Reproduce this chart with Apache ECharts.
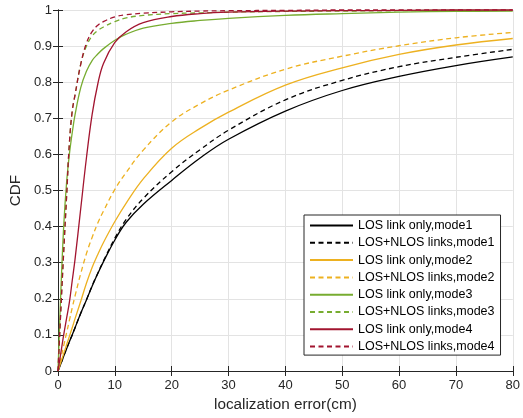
<!DOCTYPE html>
<html>
	<head>
		<meta charset="utf-8" />
		<title>CDF</title>
		<script src="https://cdn.jsdelivr.net/npm/echarts@6/dist/echarts.min.js"></script>
		<style>
			html, body { margin: 0; padding: 0; background: #fff; }
			#chartmain { width: 523px; height: 418px; }
		</style>
	</head>
	<body>
		<div id="chartmain"></div>
		<script type="text/javascript">
			// 横轴取样点 (cm)
			var errX = [0, 0.5, 1, 1.5, 2, 2.5, 3, 4, 5, 6, 7, 8, 10, 12, 15, 20, 25, 30, 40, 50, 60, 70, 80];

			// 各曲线的 CDF 值
			var los1  = [0, 0.02, 0.041, 0.061, 0.081, 0.10, 0.12, 0.16, 0.197, 0.235, 0.27, 0.303, 0.363, 0.412, 0.462, 0.528, 0.59, 0.642, 0.72, 0.777, 0.816, 0.846, 0.870];
			var nlos1 = [0, 0.02, 0.041, 0.061, 0.081, 0.10, 0.12, 0.16, 0.197, 0.236, 0.271, 0.305, 0.368, 0.42, 0.478, 0.552, 0.613, 0.667, 0.751, 0.805, 0.843, 0.869, 0.891];
			var los2  = [0, 0.024, 0.048, 0.072, 0.096, 0.12, 0.145, 0.193, 0.243, 0.287, 0.323, 0.356, 0.414, 0.465, 0.532, 0.617, 0.672, 0.717, 0.792, 0.84, 0.877, 0.903, 0.921];
			var nlos2 = [0, 0.035, 0.07, 0.105, 0.14, 0.175, 0.208, 0.27, 0.325, 0.37, 0.41, 0.443, 0.503, 0.55, 0.612, 0.69, 0.74, 0.778, 0.836, 0.872, 0.901, 0.923, 0.938];
			var los3  = [0, 0.22, 0.4, 0.52, 0.6, 0.66, 0.71, 0.785, 0.83, 0.86, 0.878, 0.893, 0.916, 0.933, 0.95, 0.963, 0.971, 0.977, 0.985, 0.99, 0.994, 0.996, 0.997];
			var nlos3 = [0, 0.17, 0.33, 0.48, 0.63, 0.72, 0.765, 0.85, 0.9, 0.928, 0.943, 0.953, 0.968, 0.978, 0.985, 0.99, 0.992, 0.994, 0.996, 0.997, 0.998, 0.999, 0.999];
			var los4  = [0, 0.05, 0.1, 0.145, 0.19, 0.25, 0.31, 0.45, 0.59, 0.71, 0.795, 0.852, 0.91, 0.94, 0.965, 0.982, 0.99, 0.994, 0.997, 0.998, 0.999, 1, 1];
			var nlos4 = [0, 0.17, 0.33, 0.48, 0.63, 0.72, 0.765, 0.85, 0.908, 0.94, 0.958, 0.968, 0.981, 0.987, 0.991, 0.995, 0.997, 0.998, 0.999, 1, 1, 1, 1];

			var names = ['LOS link only,mode1', 'LOS+NLOS links,mode1',
				'LOS link only,mode2', 'LOS+NLOS links,mode2',
				'LOS link only,mode3', 'LOS+NLOS links,mode3',
				'LOS link only,mode4', 'LOS+NLOS links,mode4'];
			var values = [los1, nlos1, los2, nlos2, los3, nlos3, los4, nlos4];
			var colors = ['#000000', '#000000', '#EDB120', '#EDB120', '#77AC30', '#77AC30', '#A2142F', '#A2142F'];

			var axisColor = '#262626';
			var font = 'Liberation Sans, Arial, Helvetica, sans-serif';

			var series = [];
			for (var i = 0; i < names.length; i++) {
				var pts = [];
				for (var j = 0; j < errX.length; j++) {
					pts.push([errX[j], values[i][j]]);
				}
				series.push({
					name: names[i],
					type: 'line',
					data: pts,
					smooth: 0.4,
					symbol: 'none',
					showSymbol: false,
					clip: false,
					lineStyle: {
						color: colors[i],
						width: 1.3,
						type: i % 2 == 1 ? [5, 3.5] : 'solid'
					},
					itemStyle: { color: colors[i] }
				});
			}

			var option = {
				animation: false,
				textStyle: { fontFamily: font },
				grid: { left: 58, right: 6, top: 10, bottom: 47 },
				legend: {
					orient: 'vertical',
					left: 304,
					top: 215,
					padding: [4, 6, 2, 5],
					itemWidth: 43,
					itemHeight: 14,
					itemGap: 4.3,
					itemTextGap: 3,
					backgroundColor: '#fff',
					borderColor: axisColor,
					borderWidth: 1,
					borderRadius: 0,
					itemStyle: { opacity: 0 },
					textStyle: { fontSize: 12.5, color: '#000', fontFamily: font },
					data: names
				},
				xAxis: [{
					type: 'value',
					min: 0,
					max: 80,
					interval: 10,
					name: 'localization error(cm)',
					nameLocation: 'middle',
					nameGap: 26,
					nameTextStyle: { fontSize: 15.3, color: axisColor },
					axisLine: { lineStyle: { color: axisColor, width: 1 } },
					axisTick: { inside: true, length: 5, lineStyle: { color: axisColor } },
					axisLabel: { fontSize: 13, color: axisColor, margin: 8 },
					splitLine: { show: true, lineStyle: { color: '#e3e3e3', width: 1 } }
				}, {
					type: 'value',
					position: 'top',
					min: 0,
					max: 80,
					interval: 10,
					axisLine: { show: true, lineStyle: { color: axisColor, width: 1 } },
					axisTick: { show: true, inside: true, length: 5, lineStyle: { color: axisColor } },
					axisLabel: { show: false },
					splitLine: { show: false }
				}],
				yAxis: [{
					type: 'value',
					min: 0,
					max: 1,
					interval: 0.1,
					name: 'CDF',
					nameLocation: 'middle',
					nameGap: 29,
					nameTextStyle: { fontSize: 15.3, color: axisColor },
					axisLine: { show: true, lineStyle: { color: axisColor, width: 1 } },
					axisTick: { show: true, inside: true, length: 5, lineStyle: { color: axisColor } },
					axisLabel: { fontSize: 13, color: axisColor, margin: 6 },
					splitLine: { show: true, lineStyle: { color: '#e3e3e3', width: 1 } }
				}, {
					type: 'value',
					position: 'right',
					min: 0,
					max: 1,
					interval: 0.1,
					axisLine: { show: true, lineStyle: { color: axisColor, width: 1 } },
					axisTick: { show: true, inside: true, length: 5, lineStyle: { color: axisColor } },
					axisLabel: { show: false },
					splitLine: { show: false }
				}],
				series: series
			};

			var myChart = echarts.init(document.getElementById('chartmain'));
			myChart.setOption(option);
		</script>
	</body>
</html>
